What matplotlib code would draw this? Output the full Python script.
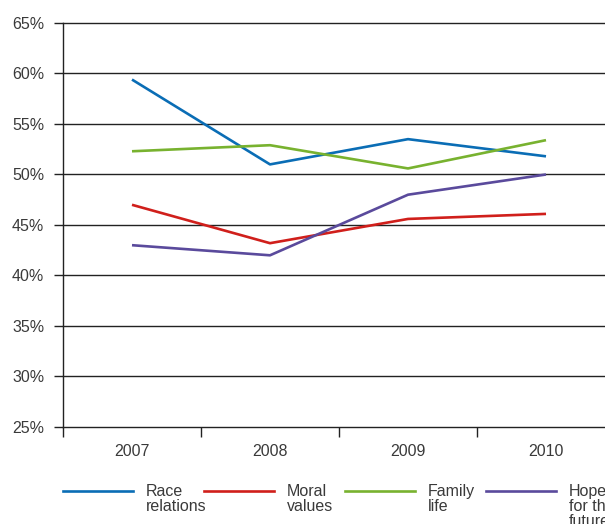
import matplotlib.pyplot as plt
from matplotlib.lines import Line2D

years = ["2007", "2008", "2009", "2010"]
race_relations = [59.4, 51.0, 53.5, 51.8]
moral_values = [47.0, 43.2, 45.6, 46.1]
family_life = [52.3, 52.9, 50.6, 53.4]
hope_future = [43.0, 42.0, 48.0, 50.0]

series = [
    ("Race\nrelations", race_relations, "#0a6db5"),
    ("Moral\nvalues", moral_values, "#d01f1b"),
    ("Family\nlife", family_life, "#78b22f"),
    ("Hope\nfor the\nfuture", hope_future, "#5a4a9c"),
]
y_ticks = [25, 30, 35, 40, 45, 50, 55, 60, 65]

plt.rcParams['font.family'] = ['Liberation Sans', 'DejaVu Sans']
text_color = "#3a3a3a"
fs = 11.5

fig = plt.figure(figsize=(6.05, 5.24), dpi=100)
ax = fig.add_axes([63 / 605, 97 / 524, 552 / 605, 404 / 524])

x = list(range(len(years)))
for label, vals, color in series:
    ax.plot(x, vals, color=color, lw=1.9, solid_capstyle='butt', zorder=3)

ax.set_xlim(-0.5, len(years) - 0.5)
ax.set_ylim(25, 65)

# horizontal rules with short outward ticks
for v in y_ticks:
    ax.axhline(v, color="#222222", lw=1.0, zorder=1, clip_on=False)
ax.set_yticks(y_ticks)
ax.set_yticklabels([f"{v}%" for v in y_ticks])
ax.tick_params(axis='y', length=6.5, width=1.0, color="#222222", pad=7,
               labelsize=fs, labelcolor=text_color)

# category boundaries as ticks, labels centred in between
ax.set_xticks([i - 0.5 for i in range(len(years) + 1)])
ax.set_xticklabels([])
ax.set_xticks(x, minor=True)
ax.set_xticklabels(years, minor=True)
ax.tick_params(axis='x', which='major', length=7.2, width=1.0, color="#222222")
ax.tick_params(axis='x', which='minor', length=0, pad=12,
               labelsize=fs, labelcolor=text_color)

for side in ['top', 'right', 'bottom']:
    ax.spines[side].set_visible(False)
ax.spines['left'].set_color("#222222")
ax.spines['left'].set_linewidth(1.0)

# legend row under the axis; the last label runs off the right edge
for i, (label, vals, color) in enumerate(series):
    x0 = 63 + i * 141
    y0 = 524 - 491
    fig.add_artist(Line2D([x0 / 605, (x0 + 70) / 605], [y0 / 524, y0 / 524],
                         color=color, lw=1.9, transform=fig.transFigure))
    fig.text((x0 + 83) / 605, (524 - 484) / 524, label, fontsize=fs,
             color=text_color, va='top', ha='left', linespacing=1.02)

fig.savefig("out.png", dpi=100)
